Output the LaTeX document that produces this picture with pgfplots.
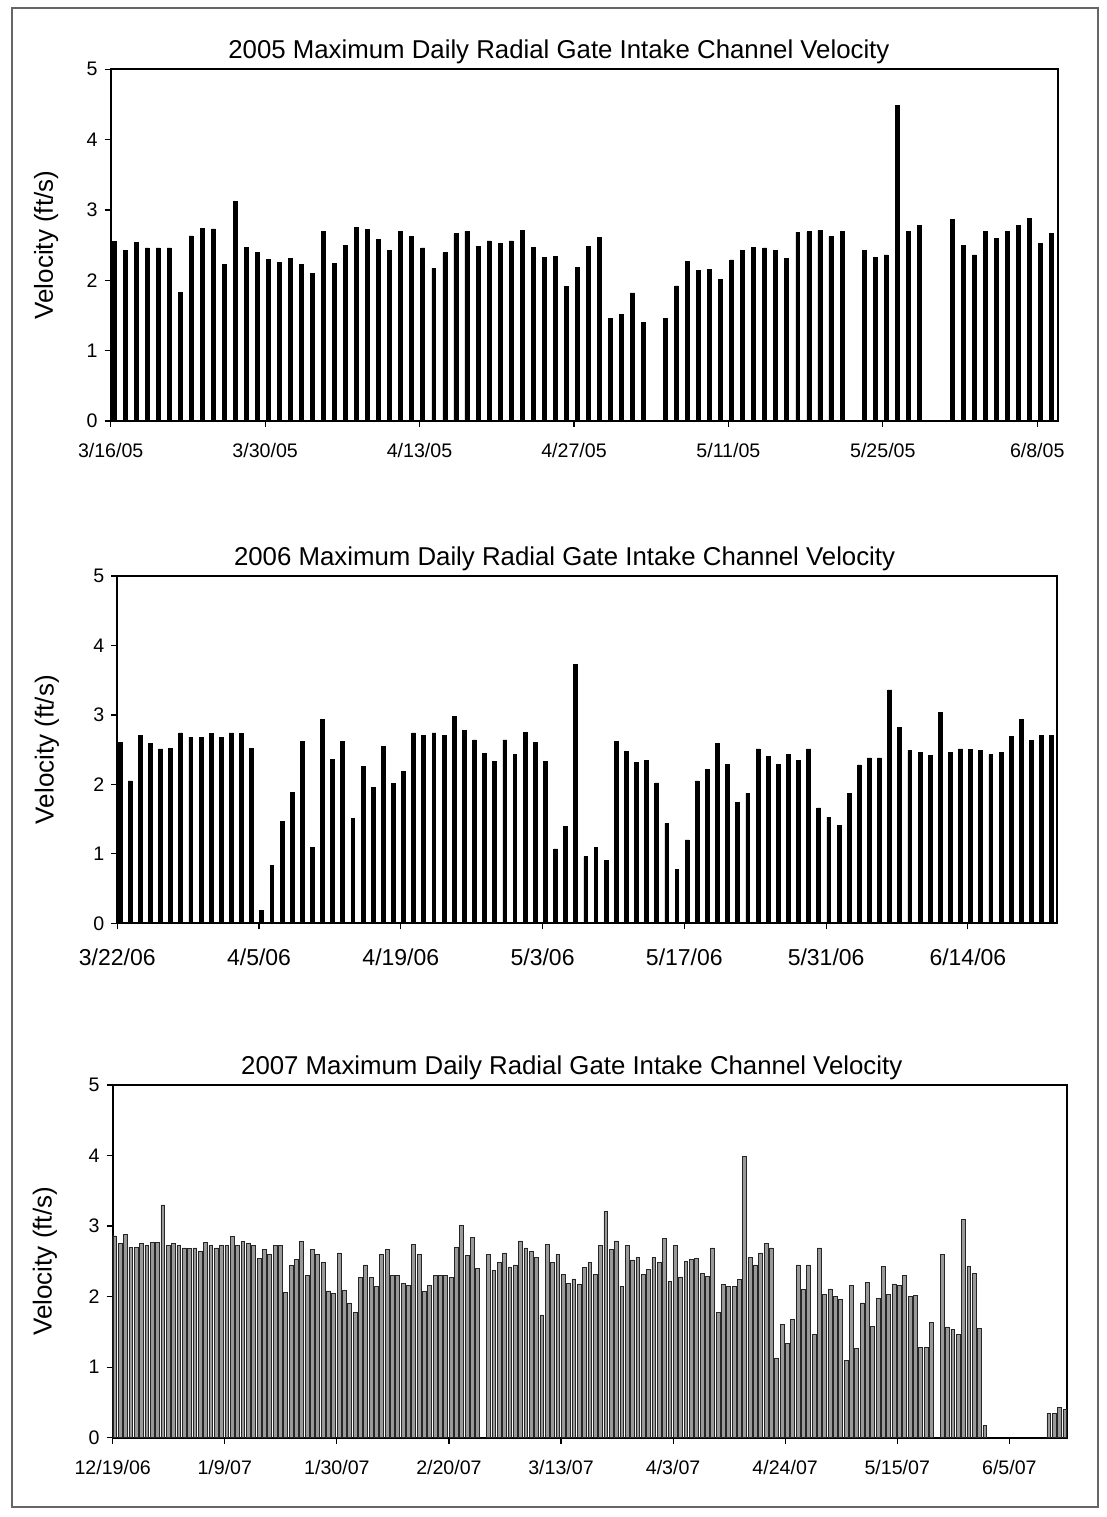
\documentclass[border=0pt]{standalone}
\usepackage{pgfplots}
\pgfplotsset{compat=1.18}
\usepackage{pgfplotstable}
\usepackage{fontspec}
\setmainfont{Liberation Sans}

% 2005 (d = days after 3/16/05)
\pgfplotstableread{
d v
0 2.55
1 2.43
2 2.54
3 2.46
4 2.46
5 2.46
6 1.83
7 2.63
8 2.74
9 2.73
10 2.22
11 3.12
12 2.47
13 2.40
14 2.30
15 2.25
16 2.31
17 2.23
18 2.10
19 2.70
20 2.24
21 2.50
22 2.75
23 2.72
24 2.58
25 2.42
26 2.69
27 2.62
28 2.46
29 2.17
30 2.39
31 2.66
32 2.70
33 2.48
34 2.56
35 2.52
36 2.56
37 2.71
38 2.47
39 2.32
40 2.34
41 1.91
42 2.18
43 2.48
44 2.61
45 1.46
46 1.51
47 1.82
48 1.40
50 1.46
51 1.92
52 2.27
53 2.14
54 2.16
55 2.01
56 2.29
57 2.43
58 2.47
59 2.46
60 2.43
61 2.31
62 2.68
63 2.69
64 2.71
65 2.62
66 2.70
68 2.43
69 2.32
70 2.36
71 4.48
72 2.69
73 2.78
76 2.87
77 2.50
78 2.36
79 2.69
80 2.59
81 2.69
82 2.78
83 2.88
84 2.53
85 2.66
}\dataA

% 2006 (d = days after 3/22/06)
\pgfplotstableread{
d v
0 2.60
1 2.05
2 2.70
3 2.59
4 2.51
5 2.52
6 2.74
7 2.68
8 2.68
9 2.73
10 2.68
11 2.74
12 2.73
13 2.52
14 0.19
15 0.83
16 1.47
17 1.89
18 2.62
19 1.09
20 2.93
21 2.36
22 2.62
23 1.51
24 2.26
25 1.95
26 2.54
27 2.01
28 2.18
29 2.74
30 2.70
31 2.74
32 2.71
33 2.98
34 2.77
35 2.64
36 2.45
37 2.33
38 2.64
39 2.43
40 2.75
41 2.60
42 2.33
43 1.07
44 1.40
45 3.73
46 0.96
47 1.09
48 0.90
49 2.62
50 2.48
51 2.32
52 2.35
53 2.02
54 1.44
55 0.78
56 1.20
57 2.05
58 2.21
59 2.59
60 2.29
61 1.74
62 1.87
63 2.51
64 2.40
65 2.29
66 2.43
67 2.35
68 2.51
69 1.66
70 1.53
71 1.41
72 1.87
73 2.28
74 2.38
75 2.38
76 3.36
77 2.82
78 2.49
79 2.46
80 2.42
81 3.03
82 2.46
83 2.51
84 2.50
85 2.49
86 2.43
87 2.46
88 2.69
89 2.94
90 2.63
91 2.71
92 2.71
}\dataB

% 2007 (d = days after 12/19/06)
\pgfplotstableread{
d v
0 2.86
1 2.75
2 2.88
3 2.70
4 2.70
5 2.75
6 2.73
7 2.77
8 2.77
9 3.30
10 2.72
11 2.75
12 2.73
13 2.69
14 2.68
15 2.69
16 2.64
17 2.77
18 2.73
19 2.69
20 2.73
21 2.73
22 2.85
23 2.72
24 2.78
25 2.75
26 2.73
27 2.54
28 2.67
29 2.60
30 2.73
31 2.73
32 2.06
33 2.44
34 2.53
35 2.78
36 2.30
37 2.67
38 2.60
39 2.49
40 2.08
41 2.04
42 2.62
43 2.09
44 1.91
45 1.78
46 2.27
47 2.45
48 2.27
49 2.15
50 2.60
51 2.67
52 2.30
53 2.30
54 2.19
55 2.16
56 2.74
57 2.60
58 2.07
59 2.16
60 2.30
61 2.30
62 2.30
63 2.27
64 2.70
65 3.01
66 2.59
67 2.84
68 2.40
70 2.60
71 2.37
72 2.48
73 2.62
74 2.42
75 2.45
76 2.79
77 2.69
78 2.64
79 2.56
80 1.74
81 2.74
82 2.49
83 2.60
84 2.32
85 2.19
86 2.25
87 2.18
88 2.41
89 2.48
90 2.31
91 2.73
92 3.21
93 2.67
94 2.79
95 2.15
96 2.73
97 2.52
98 2.56
99 2.32
100 2.39
101 2.56
102 2.48
103 2.82
104 2.22
105 2.73
106 2.28
107 2.50
108 2.53
109 2.54
110 2.33
111 2.29
112 2.69
113 1.77
114 2.17
115 2.15
116 2.15
117 2.24
118 3.99
119 2.56
120 2.45
121 2.62
122 2.75
123 2.69
124 1.13
125 1.60
126 1.34
127 1.68
128 2.45
129 2.10
130 2.45
131 1.46
132 2.69
133 2.03
134 2.11
135 2.00
136 1.96
137 1.10
138 2.16
139 1.26
140 1.91
141 2.20
142 1.58
143 1.98
144 2.43
145 2.03
146 2.18
147 2.16
148 2.30
149 2.00
150 2.02
151 1.28
152 1.28
153 1.63
155 2.60
156 1.57
157 1.54
158 1.47
159 3.10
160 2.43
161 2.33
162 1.55
163 0.17
175 0.34
176 0.34
177 0.43
178 0.40
}\dataC

\pgfplotsset{
  panel/.style={
    scale only axis,
    ybar,
    ymin=0, ymax=5, ytick={0,1,2,3,4,5},
    xmin=0,
    axis line style={line width=0.9pt, black},
    tick style={black, line width=0.6pt},
    tick align=outside, major tick length=3pt,
    xtick pos=left, ytick pos=left,
    /pgf/number format/assume math mode=true,
    ticklabel style={font=\fontsize{9.8}{11}\selectfont},
    title style={font=\fontsize{12.9}{15}\selectfont, anchor=base, yshift=-0.5pt},
    ylabel={Velocity (ft/s)},
    ylabel style={font=\fontsize{13}{15}\selectfont, anchor=center},
  }
}

\begin{document}
\begin{tikzpicture}
\useasboundingbox (0,0) rectangle (553.5pt,758.5pt);
\draw[black!60, line width=0.8pt] (6pt,5pt) rectangle (549pt,754.5pt);

% ---------- 2005 ----------
\begin{axis}[panel,
  at={(55.35pt,548pt)}, anchor=south west,
  width=473.75pt, height=175.85pt,
  xmax=85.9,
  xtick={0,14,28,42,56,70,84},
  xticklabels={3/16/05,3/30/05,4/13/05,4/27/05,5/11/05,5/25/05,6/8/05},
  xticklabel style={yshift=-4.5pt},
  title={2005 Maximum Daily Radial Gate Intake Channel Velocity},
  title style={at={(0.473,1)}},
  ylabel style={at={(axis description cs:-0.068,0.5)}},
]
\addplot[fill=black, draw=black, bar width=0.36] table[x expr=\thisrow{d}+0.3, y=v] {\dataA};
\end{axis}

% ---------- 2006 ----------
\begin{axis}[panel,
  at={(58.65pt,296.85pt)}, anchor=south west,
  width=469.85pt, height=173.65pt,
  xmax=92.8,
  xtick={0,14,28,42,56,70,84},
  xticklabels={3/22/06,4/5/06,4/19/06,5/3/06,5/17/06,5/31/06,6/14/06},
  xticklabel style={font=\fontsize{11.5}{13}\selectfont, yshift=-6pt},
  title={2006 Maximum Daily Radial Gate Intake Channel Velocity},
  title style={at={(0.476,1)}},
  ylabel style={at={(axis description cs:-0.075,0.5)}},
]
\addplot[fill=black, draw=black, bar width=0.38] table[x expr=\thisrow{d}+0.27, y=v] {\dataB};
\end{axis}

% ---------- 2007 ----------
\begin{axis}[panel,
  at={(56.35pt,39.65pt)}, anchor=south west,
  width=477.15pt, height=176.35pt,
  xmax=178.8,
  xtick={0,21,42,63,84,105,126,147,168},
  xticklabels={12/19/06,1/9/07,1/30/07,2/20/07,3/13/07,4/3/07,4/24/07,5/15/07,6/5/07},
  xticklabel style={yshift=-5pt},
  title={2007 Maximum Daily Radial Gate Intake Channel Velocity},
  title style={at={(0.481,1)}},
  ylabel style={at={(axis description cs:-0.071,0.5)}},
]
\addplot[fill=black!40, draw=black!85, line width=0.35pt, bar width=0.72] table[x expr=\thisrow{d}+0.4, y=v] {\dataC};
\end{axis}
\end{tikzpicture}
\end{document}
